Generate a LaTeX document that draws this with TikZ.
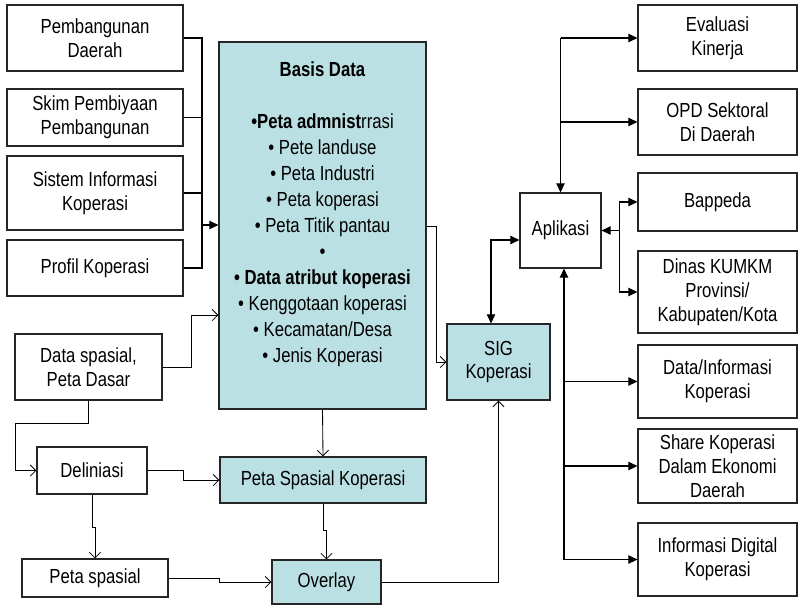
\documentclass[tikz,border=0pt]{standalone}
\usepackage{fontspec}
\setmainfont{Liberation Sans}[FakeStretch=0.82]
\usetikzlibrary{arrows.meta}
\definecolor{sigcyan}{RGB}{187,224,227}

\tikzset{
  box/.style={draw=black!85, line width=0.8pt, inner sep=0pt, align=center,
    font=\fontsize{14.5}{17}\selectfont},
  cyanbox/.style={box, fill=sigcyan},
  wh/.style 2 args={minimum width=#1*0.025cm, minimum height=#2*0.025cm},
  flow/.style={-{Straight Barb[length=4pt,width=8pt]}, line width=0.6pt},
  feed/.style={-{Triangle[length=6.5pt,width=6pt]}, line width=0.8pt},
  feedboth/.style={{Triangle[length=6.5pt,width=6pt]}-{Triangle[length=6.5pt,width=6pt]}, line width=0.8pt}
}

\begin{document}
\begin{tikzpicture}[x=0.025cm, y=-0.025cm]
  \useasboundingbox (0,0) rectangle (799,606);

  % sumber data (kiri atas)
  \node[box, wh={176}{66}] (pemb) at (95,38) {Pembangunan\\Daerah};
  \node[box, wh={176}{57}] (skim) at (95,117.5) {Skim Pembiyaan\\Pembangunan};
  \node[box, wh={176}{74}] (sim) at (95,193) {Sistem Informasi\\Koperasi};
  \node[box, wh={176}{56}] (profil) at (95,268) {Profil Koperasi};

  % basis data
  \node[cyanbox, wh={207}{367}] (bd) at (322.5,225.5) {};
  \node[anchor=north, align=center, inner sep=0pt,
    font=\fontsize{14.5}{18.5}\selectfont] (bdtext) at (322.5,61)
    {\textbf{Basis Data}\\[18.5pt]
     \textbf{•Peta admnist}rrasi\\
     • Pete landuse\\
     • Peta Industri\\
     • Peta koperasi\\
     • Peta Titik pantau\\
     •\\
     \textbf{• Data atribut koperasi}\\
     • Kenggotaan koperasi\\
     • Kecamatan/Desa\\
     • Jenis Koperasi};

  % alur spasial (kiri bawah)
  \node[box, wh={147}{66}] (spasial) at (88.5,367) {Data spasial,\\Peta Dasar};
  \node[box, wh={110}{47}] (delin) at (92,470.5) {Deliniasi};
  \node[cyanbox, wh={206}{46}] (psk) at (323,480) {Peta Spasial Koperasi};
  \node[box, wh={146}{38}] (petasp) at (95,578) {Peta spasial};
  \node[cyanbox, wh={109}{44}] (overlay) at (326.5,582) {Overlay};
  \node[cyanbox, wh={103}{76}] (sig) at (498.5,362) {SIG\\Koperasi};
  \node[box, wh={81}{75}] (apl) at (560.5,230.5) {Aplikasi};

  % pengguna (kanan)
  \node[box, wh={159}{66}] (eval) at (717.5,38) {Evaluasi\\Kinerja};
  \node[box, wh={159}{66}] (opd) at (717.5,122) {OPD Sektoral\\Di Daerah};
  \node[box, wh={159}{58}] (bappeda) at (717.5,202) {Bappeda};
  \node[box, wh={159}{82}] (dinas) at (717.5,292) {Dinas KUMKM\\Provinsi/\\Kabupaten/Kota};
  \node[box, wh={159}{73}] (datainfo) at (717.5,381.5) {Data/Informasi\\Koperasi};
  \node[box, wh={159}{74}] (share) at (717.5,466) {Share Koperasi\\Dalam Ekonomi\\Daerah};
  \node[box, wh={159}{73}] (digital) at (717.5,559.5) {Informasi Digital\\Koperasi};

  % bus masuk basis data
  \coordinate (bus) at (202,225);
  \draw[line width=0.8pt] (pemb.east) -| (bus) |- (profil.east);
  \draw[line width=0.8pt] (skim.east) -- (skim.east -| bus);
  \draw[line width=0.8pt] (sim.east) -- (sim.east -| bus);
  \draw[feed] (bus) -- (bus -| bd.west);

  % alur kiri
  \draw[flow] (spasial.east) -- ++(29,0) |- (bd.west |- 0,315);
  \draw[flow] (spasial.south) |- (15,423) |- (delin.west);
  \draw[flow] (delin.east) -- ++(36,0) |- (psk.west);
  \draw[flow] (bd.south) -- (psk.north);
  \draw[flow] (delin.south) -- ++(0,33) -| (petasp.north);
  \draw[flow] (petasp.east) -- ++(51,0) |- (overlay.west);
  \draw[flow] (psk.south) -- ++(0,27) -| (overlay.north);
  \draw[flow] (overlay.east) -| (sig.south);
  \draw[flow] (bd.east |- 0,226) -- ++(10,0) |- (sig.west);
  \draw[feedboth] (491,0 |- sig.north) |- (apl.west |- 0,240);

  % aplikasi ke pengguna
  \coordinate (topbus) at (eval.west -| apl.north);
  \draw[feed] (topbus) -- (apl.north);
  \draw[feed] (topbus) -- (eval.west);
  \draw[feed] (opd.west -| topbus) -- (opd.west);
  \coordinate (rbus) at ([xshift=0.45cm]apl.east);
  \draw[feed] (rbus) -- (apl.east);
  \draw[feed] (rbus) |- (bappeda.west);
  \draw[feed] (rbus) |- (dinas.west);
  \coordinate (lowbus) at (564,0 |- digital.west);
  \draw[feed] (lowbus) -- (lowbus |- apl.south);
  \draw[feed] (lowbus) -- (digital.west);
  \draw[feed] (lowbus |- datainfo.west) -- (datainfo.west);
  \draw[feed] (lowbus |- share.west) -- (share.west);
\end{tikzpicture}
\end{document}
